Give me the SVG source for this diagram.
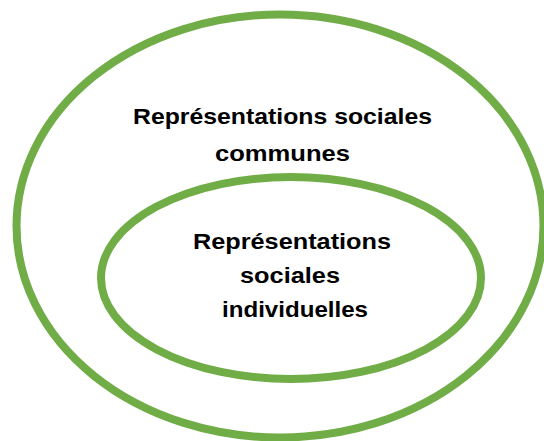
<svg xmlns="http://www.w3.org/2000/svg" width="544" height="441" viewBox="0 0 544 441">
<style>
.ring{fill:none;stroke:#70AD47;stroke-width:8}
.lbl{font-family:"Liberation Sans",Arial,sans-serif;font-weight:bold;font-size:22px;fill:#000;text-anchor:middle}
</style>
<rect width="544" height="441" fill="#fff"/>
<g id="outer">
<ellipse class="ring" cx="280" cy="226" rx="263.5" ry="211.5"/>
<text class="lbl" x="282.5" y="124" textLength="299" lengthAdjust="spacingAndGlyphs">Représentations sociales</text>
<text class="lbl" x="282.5" y="161" textLength="135" lengthAdjust="spacingAndGlyphs">communes</text>
</g>
<g id="inner">
<ellipse class="ring" cx="291" cy="278" rx="190" ry="101"/>
<text class="lbl" x="292" y="249" textLength="198" lengthAdjust="spacingAndGlyphs">Représentations</text>
<text class="lbl" x="290" y="283" textLength="100" lengthAdjust="spacingAndGlyphs">sociales</text>
<text class="lbl" x="295" y="317" textLength="146" lengthAdjust="spacingAndGlyphs">individuelles</text>
</g>
<g id="connectors"></g>
</svg>
